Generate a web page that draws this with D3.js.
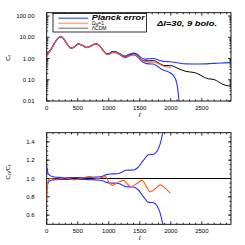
<!DOCTYPE html>
<html><head><meta charset="utf-8">
<script src="https://cdn.jsdelivr.net/npm/d3@7"></script>
<style>body{margin:0;background:#fff}svg{display:block}text{font-family:"Liberation Sans",Arial,sans-serif}</style>
</head><body><svg id="c" width="245" height="245"></svg>
<script>
// ---- data ----
const lcdmL = [2,40,80,130,180,225,270,320,370,400,450,510,570,645,720,790,850,910,975,1010,1058,1110,1180,1263,1330,1397,1460,1520,1580,1650,1720,1790,1860,1920,1980,2030,2100,2170,2240,2320,2400,2470,2540,2610,2680,2740,2800,2880,2970];
const lcdmCl = [1.6,2.0,3.0,5.5,8.8,10.5,8.8,5.2,3.3,3.1,3.6,4.8,4.2,3.3,4.0,4.9,4.0,2.4,1.6,1.7,2.05,2.0,1.6,1.2,1.45,1.65,1.4,0.95,0.78,0.78,0.8,0.65,0.5,0.46,0.47,0.44,0.36,0.29,0.25,0.23,0.21,0.17,0.13,0.11,0.105,0.09,0.07,0.055,0.05];
const omegaL = [2,40,80,130,180,225,270,320,370,400,450,510,570,645,720,790,850,910,975,1010,1058,1110,1180,1263,1330,1397,1460,1520,1580,1650,1720,1790,1860,1920,1980,2000];
const omegaCl = [1.2,2.0,3.0,5.5,8.8,10.5,8.8,5.2,3.3,3.1,3.6,4.8,4.2,3.3,4.1,4.9,4.0,2.4,1.55,1.6,1.9,1.9,1.55,1.15,1.33,1.5,1.35,0.92,0.74,0.67,0.68,0.6,0.47,0.42,0.39,0.38];
const upL = [2,40,80,130,180,225,270,320,370,400,450,510,570,645,720,790,850,910,975,1010,1058,1110,1180,1263,1330,1397,1460,1520,1580,1650,1720,1790,1860,1920,1980,2050,2150,2250,2350,2450,2550,2650,2750,2850,2970];
const upCl = [1.8,2.1,3.05,5.6,8.95,10.7,8.95,5.3,3.35,3.15,3.65,4.9,4.3,3.35,4.1,5.0,4.1,2.47,1.67,1.78,2.15,2.1,1.7,1.3,1.58,1.8,1.57,1.1,0.93,0.98,1.0,0.87,0.75,0.72,0.7,0.67,0.6,0.56,0.55,0.55,0.56,0.58,0.6,0.62,0.64];
const loL = [2,40,80,130,180,225,270,320,370,400,450,510,570,645,720,790,850,910,975,1010,1058,1110,1180,1263,1330,1397,1460,1520,1580,1650,1720,1790,1860,1920,1980,2040,2080,2110,2135];
const loCl = [1.4,1.95,2.95,5.4,8.65,10.3,8.65,5.1,3.25,3.05,3.55,4.7,4.1,3.25,3.9,4.8,3.9,2.33,1.53,1.62,1.96,1.9,1.5,1.1,1.32,1.5,1.25,0.8,0.62,0.56,0.55,0.42,0.3,0.26,0.22,0.16,0.1,0.04,0.008];
const rUpL = [2,20,50,100,200,400,600,800,900,980,1050,1130,1200,1280,1400,1470,1560,1640,1720,1780,1830,1870,1900];
const rUp = [1.13,1.06,1.035,1.02,1.012,1.01,1.01,1.015,1.025,1.045,1.05,1.052,1.065,1.09,1.092,1.12,1.2,1.26,1.265,1.3,1.38,1.5,1.6];
const rLoL = [2,20,50,100,200,400,600,800,900,980,1050,1130,1200,1280,1400,1470,1560,1640,1720,1780,1830,1870,1900];
const rLo = [0.87,0.95,0.975,0.985,0.99,0.99,0.99,0.985,0.975,0.955,0.95,0.948,0.935,0.91,0.908,0.88,0.8,0.74,0.735,0.7,0.62,0.5,0.4];
const rOmL = [2,10,25,60,150,300,450,550,700,800,880,950,1000,1060,1130,1236,1300,1360,1440,1540,1600,1670,1750,1830,1900,1990];
const rOm = [0.75,0.9,0.98,1.0,0.99,1.01,0.985,1.0,1.02,1.0,1.01,1.02,0.96,0.925,0.95,0.98,0.94,0.91,0.94,0.98,0.92,0.855,0.89,0.93,0.9,0.84];
const refL = [0,2970];
const refR = [1,1];
const xTicks = [0,500,1000,1500,2000,2500];
const topYTicks = [0.01,0.1,1,10,100];
const topYLabels = ["0.01","0.10","1.00","10.00","100.00"];
const botYTicks = [0.6,0.8,1.0,1.2,1.4];
const legendNames = ["Planck error","ΛCDM"];
// ---- layout ----
const svg = d3.select("#c");
const L = 46.7, R = 231;
const x = d3.scaleLinear().domain([0,2970]).range([L,R]);
const yT = d3.scaleLog().domain([0.01,143]).range([101,12.7]);
const yB = d3.scaleLinear().domain([0.5,1.5]).range([224.3,132.7]);
const BLUE="#2233ff", ORANGE="#ff5a1a";
const zip=(a,b)=>a.map((v,i)=>[v,b[i]]);

function panel(y, top, bottom, yticks, ylabels, minorY, clipId){
  const g = svg.append("g");
  svg.append("clipPath").attr("id",clipId).append("rect")
    .attr("x",L).attr("y",top).attr("width",R-L).attr("height",bottom-top);
  const t = g.append("g").attr("stroke","#000").attr("stroke-width",0.8);
  const xmin = d3.range(0,2971,100);
  xmin.forEach(v=>{
    const major = v%500===0; const len = major?3:1.6;
    t.append("line").attr("x1",x(v)).attr("x2",x(v)).attr("y1",bottom).attr("y2",bottom-len);
    t.append("line").attr("x1",x(v)).attr("x2",x(v)).attr("y1",top).attr("y2",top+len);
  });
  minorY.forEach(v=>{
    t.append("line").attr("x1",L).attr("x2",L+1.6).attr("y1",y(v)).attr("y2",y(v));
    t.append("line").attr("x1",R).attr("x2",R-1.6).attr("y1",y(v)).attr("y2",y(v));
  });
  yticks.forEach(v=>{
    t.append("line").attr("x1",L).attr("x2",L+3).attr("y1",y(v)).attr("y2",y(v));
    t.append("line").attr("x1",R).attr("x2",R-3).attr("y1",y(v)).attr("y2",y(v));
  });
  g.append("rect").attr("x",L).attr("y",top).attr("width",R-L).attr("height",bottom-top)
    .attr("fill","none").attr("stroke","#000").attr("stroke-width",0.9);
  yticks.forEach((v,i)=>{
    g.append("text").attr("x",34.5).attr("y",y(v)+2.2).attr("text-anchor","end")
      .attr("font-size",6).text(ylabels[i]);
  });
  xTicks.forEach(v=>{
    g.append("text").attr("x",x(v)).attr("y",bottom+9).attr("text-anchor","middle")
      .attr("font-size",6).text(v);
  });
  g.append("text").attr("x",x(1500)).attr("y",bottom+15.5).attr("text-anchor","middle")
    .attr("font-size",6.5).attr("font-style","italic").text("ℓ");
  return g;
}

// top panel
const topMinor=[];
[0.01,0.1,1,10,100].forEach(d=>{for(let k=2;k<=9;k++){const v=d*k; if(v<143) topMinor.push(v);}});
panel(yT,12.7,101,topYTicks,topYLabels,topMinor,"clipT");
const lineT = d3.line().x(d=>x(d[0])).y(d=>yT(Math.max(d[1],0.001))).curve(d3.curveMonotoneX);
const gT = svg.append("g").attr("clip-path","url(#clipT)").attr("fill","none");
gT.append("path").attr("d",lineT(zip(lcdmL,lcdmCl))).attr("stroke","#000").attr("stroke-width",1);
gT.append("path").attr("d",lineT(zip(upL,upCl))).attr("stroke",BLUE).attr("stroke-width",1.1);
gT.append("path").attr("d",lineT(zip(loL,loCl))).attr("stroke",BLUE).attr("stroke-width",1.1);
gT.append("path").attr("d",lineT(zip(omegaL,omegaCl))).attr("stroke",ORANGE).attr("stroke-width",1.1);

// legend
const lg = svg.append("g");
lg.append("rect").attr("x",53).attr("y",13.5).attr("width",93.5).attr("height",18.5)
  .attr("fill","#fff").attr("stroke","#000").attr("stroke-width",0.8);
[["#5a78ff",18.3],["#ffaa88",23.3],["#999999",28.3]].forEach(([c,yy])=>{
  lg.append("line").attr("x1",58.3).attr("x2",88.3).attr("y1",yy).attr("y2",yy)
    .attr("stroke",c).attr("stroke-width",1.6);
});
lg.append("text").attr("x",91.7).attr("y",20.3).attr("font-size",6.5).attr("font-style","italic")
  .attr("font-weight","bold").attr("textLength",53).attr("lengthAdjust","spacingAndGlyphs").text(legendNames[0]);
const om = lg.append("text").attr("x",91.7).attr("y",24.9).attr("font-size",5);
om.append("tspan").text("Ω");
om.append("tspan").attr("font-size",3.5).attr("dy",0.8).text("M");
om.append("tspan").attr("dy",-0.8).text("=1");
lg.append("text").attr("x",91.7).attr("y",30.2).attr("font-size",5).text(legendNames[1]);
svg.append("text").attr("x",157).attr("y",26).attr("font-size",6.5).attr("font-style","italic")
  .attr("font-weight","bold").attr("textLength",60).attr("lengthAdjust","spacingAndGlyphs").text("Δl=30, 9 bolo.");

// y titles
const yt1 = svg.append("text").attr("transform","translate(10,58) rotate(-90)").attr("text-anchor","middle").attr("font-size",6);
yt1.append("tspan").text("C");
yt1.append("tspan").attr("font-size",4.2).attr("dy",1.2).text("ℓ");

// bottom panel
const botMinor = d3.range(0.55,1.5,0.05).map(v=>+v.toFixed(2));
panel(yB,132.7,224.3,botYTicks,botYTicks.map(v=>v.toFixed(1)),botMinor,"clipB");
const lineB = d3.line().x(d=>x(d[0])).y(d=>yB(d[1])).curve(d3.curveMonotoneX);
const gB = svg.append("g").attr("clip-path","url(#clipB)").attr("fill","none");
gB.append("path").attr("d",lineB(zip(refL,refR))).attr("stroke","#000").attr("stroke-width",1);
gB.append("path").attr("d",lineB(zip(rUpL,rUp))).attr("stroke",BLUE).attr("stroke-width",1.1);
gB.append("path").attr("d",lineB(zip(rLoL,rLo))).attr("stroke",BLUE).attr("stroke-width",1.1);
gB.append("path").attr("d",lineB(zip(rOmL,rOm))).attr("stroke",ORANGE).attr("stroke-width",1.1);

const yt2 = svg.append("text").attr("transform","translate(10,172) rotate(-90)").attr("text-anchor","middle").attr("font-size",6);
yt2.append("tspan").text("C");
yt2.append("tspan").attr("font-size",4.2).attr("dy",1.2).text("Ω");
yt2.append("tspan").attr("dy",-1.2).text("/C");
yt2.append("tspan").attr("font-size",4.2).attr("dy",1.2).text("ℓ");
</script></body></html>
